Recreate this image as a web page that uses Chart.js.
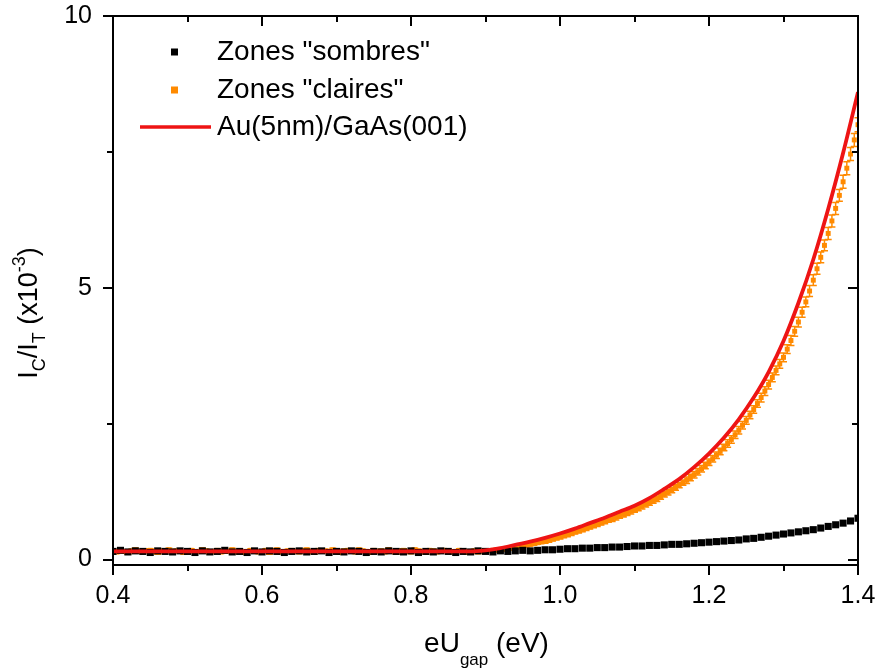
<!DOCTYPE html>
<html>
<head>
<meta charset="utf-8">
<title>IC/IT vs eUgap</title>
<script src="https://cdn.jsdelivr.net/npm/chart.js@4.4.0/dist/chart.umd.min.js"></script>
<style>
  html, body { margin: 0; padding: 0; background: #fff; }
  #chart { display: block; }
</style>
</head>
<body>
<canvas id="chart" width="877" height="670"></canvas>
<script>
// eU_gap sampling starts at 0.40 eV
const energyStart = 0.4;

// Zones "sombres" (black), one point every 0.01 eV
const sombresStep = 0.01;
const sombres = [
  0.15, 0.17, 0.14, 0.16, 0.15, 0.13, 0.16, 0.15, 0.14, 0.16,
  0.15, 0.13, 0.16, 0.14, 0.15, 0.17, 0.14, 0.15, 0.13, 0.16,
  0.14, 0.16, 0.15, 0.13, 0.15, 0.16, 0.14, 0.15, 0.16, 0.13,
  0.15, 0.14, 0.16, 0.15, 0.13, 0.15, 0.14, 0.16, 0.15, 0.14,
  0.16, 0.13, 0.15, 0.14, 0.16, 0.15, 0.13, 0.15, 0.14, 0.16,
  0.15, 0.14, 0.16, 0.15, 0.16, 0.17, 0.16, 0.17, 0.18, 0.18,
  0.19, 0.20, 0.20, 0.21, 0.21, 0.22, 0.22, 0.23, 0.23, 0.24,
  0.25, 0.25, 0.26, 0.26, 0.27, 0.28, 0.28, 0.29, 0.30, 0.31,
  0.32, 0.33, 0.34, 0.35, 0.36, 0.38, 0.39, 0.41, 0.43, 0.45,
  0.47, 0.49, 0.51, 0.53, 0.55, 0.58, 0.61, 0.64, 0.67, 0.71,
  0.76
];

// Zones "claires" (orange) with error bars, one point every 0.005 eV
const clairesStep = 0.005;
const claires = [
  0.16, 0.14, 0.17, 0.15, 0.13, 0.16, 0.18, 0.15, 0.14, 0.16,
  0.17, 0.15, 0.13, 0.16, 0.15, 0.18, 0.14, 0.16, 0.15, 0.13,
  0.16, 0.17, 0.14, 0.15, 0.18, 0.16, 0.13, 0.15, 0.17, 0.14,
  0.16, 0.15, 0.18, 0.14, 0.16, 0.13, 0.15, 0.17, 0.16, 0.14,
  0.15, 0.17, 0.13, 0.16, 0.18, 0.14, 0.15, 0.16, 0.17, 0.15,
  0.14, 0.16, 0.18, 0.15, 0.13, 0.17, 0.15, 0.16, 0.14, 0.18,
  0.15, 0.13, 0.16, 0.17, 0.15, 0.14, 0.18, 0.16, 0.15, 0.13,
  0.17, 0.15, 0.16, 0.14, 0.18, 0.15, 0.13, 0.16, 0.17, 0.15,
  0.14, 0.18, 0.16, 0.15, 0.13, 0.17, 0.16, 0.14, 0.15, 0.17,
  0.16, 0.14, 0.15, 0.17, 0.16, 0.13, 0.15, 0.16, 0.14, 0.16,
  0.16, 0.165, 0.17, 0.175, 0.18, 0.19, 0.20, 0.21, 0.22, 0.235,
  0.25, 0.265, 0.28, 0.295, 0.31, 0.325, 0.34, 0.36, 0.38, 0.40,
  0.42, 0.44, 0.46, 0.485, 0.51, 0.53, 0.55, 0.575, 0.60, 0.625,
  0.65, 0.675, 0.70, 0.725, 0.75, 0.78, 0.81, 0.835, 0.86, 0.89,
  0.92, 0.95, 0.98, 1.015, 1.05, 1.085, 1.12, 1.16, 1.20, 1.24,
  1.28, 1.325, 1.37, 1.415, 1.46, 1.51, 1.56, 1.615, 1.67, 1.73,
  1.79, 1.855, 1.92, 1.99, 2.06, 2.135, 2.21, 2.295, 2.38, 2.47,
  2.56, 2.66, 2.76, 2.87, 2.98, 3.10, 3.22, 3.35, 3.48, 3.60,
  3.72, 3.87, 4.03, 4.20, 4.37, 4.55, 4.74, 4.94, 5.14, 5.35,
  5.56, 5.78, 6.00, 6.23, 6.46, 6.70, 6.95, 7.20, 7.46, 7.72,
  8.00
];
const clairesErr = [
  0.03, 0.03, 0.03, 0.03, 0.03, 0.03, 0.03, 0.03, 0.03, 0.03,
  0.03, 0.03, 0.03, 0.03, 0.03, 0.03, 0.03, 0.03, 0.03, 0.03,
  0.03, 0.03, 0.03, 0.03, 0.03, 0.03, 0.03, 0.03, 0.03, 0.03,
  0.03, 0.03, 0.03, 0.03, 0.03, 0.03, 0.03, 0.03, 0.03, 0.03,
  0.03, 0.03, 0.03, 0.03, 0.03, 0.03, 0.03, 0.03, 0.03, 0.03,
  0.03, 0.03, 0.03, 0.03, 0.03, 0.03, 0.03, 0.03, 0.03, 0.03,
  0.03, 0.03, 0.03, 0.03, 0.03, 0.03, 0.03, 0.03, 0.03, 0.03,
  0.03, 0.03, 0.03, 0.03, 0.03, 0.03, 0.03, 0.03, 0.03, 0.03,
  0.03, 0.03, 0.03, 0.03, 0.03, 0.03, 0.03, 0.03, 0.03, 0.03,
  0.03, 0.03, 0.03, 0.03, 0.03, 0.03, 0.03, 0.03, 0.03, 0.03,
  0.03, 0.03, 0.03, 0.03, 0.03, 0.03, 0.03, 0.03, 0.03, 0.03,
  0.03, 0.03, 0.03, 0.03, 0.03, 0.03, 0.04, 0.04, 0.04, 0.04,
  0.04, 0.04, 0.04, 0.04, 0.04, 0.04, 0.04, 0.04, 0.04, 0.04,
  0.04, 0.04, 0.04, 0.04, 0.05, 0.05, 0.05, 0.05, 0.05, 0.05,
  0.05, 0.05, 0.05, 0.05, 0.05, 0.05, 0.05, 0.05, 0.05, 0.05,
  0.05, 0.05, 0.05, 0.05, 0.06, 0.06, 0.06, 0.06, 0.06, 0.06,
  0.06, 0.06, 0.06, 0.06, 0.06, 0.07, 0.07, 0.07, 0.07, 0.07,
  0.07, 0.07, 0.07, 0.07, 0.08, 0.08, 0.08, 0.08, 0.08, 0.08,
  0.08, 0.08, 0.09, 0.09, 0.09, 0.09, 0.09, 0.10, 0.10, 0.10,
  0.10, 0.10, 0.11, 0.11, 0.11, 0.11, 0.12, 0.12, 0.12, 0.12,
  0.13
];

// Au(5nm)/GaAs(001) calculated curve (red), one value every 0.02 eV
const fitStep = 0.02;
const fitAu = [
  0.15, 0.15, 0.15, 0.15, 0.15, 0.15, 0.15, 0.15, 0.15, 0.15,
  0.15, 0.15, 0.15, 0.15, 0.15, 0.15, 0.15, 0.15, 0.15, 0.15,
  0.15, 0.15, 0.15, 0.15, 0.15,
  0.17, 0.21, 0.27, 0.33, 0.40, 0.48, 0.57, 0.67, 0.77, 0.88,
  0.99, 1.13, 1.30, 1.48, 1.70, 1.95, 2.24, 2.58, 2.98, 3.45,
  4.02, 4.72, 5.52, 6.45, 7.48, 8.60
];

// axes
const xTicks = [0.4, 0.6, 0.8, 1.0, 1.2, 1.4];
const xMinor = [0.5, 0.7, 0.9, 1.1, 1.3];
const yTicks = [0, 5, 10];
const yMinor = [2.5, 7.5];

const legendLabels = ['Zones "sombres"', 'Zones "claires"', 'Au(5nm)/GaAs(001)'];

const FONT = '"Liberation Sans", Arial, Helvetica, sans-serif';
const BLACK = '#000000';
const ORANGE = '#ff8a00';
const RED = '#ee1414';

const toPoints = (vals, step) =>
  vals.map((v, i) => ({ x: +(energyStart + i * step).toFixed(3), y: v }));

// vertical error bars, drawn with the y scale
const errorBars = {
  id: 'errorBars',
  beforeDatasetDraw(chart, args) {
    const ds = chart.data.datasets[args.index];
    if (!ds.errors) return;
    const { ctx } = chart;
    const y = chart.scales.y;
    const a = chart.chartArea;
    ctx.save();
    ctx.beginPath();
    ctx.rect(a.left, a.top, a.right - a.left, a.bottom - a.top);
    ctx.clip();
    ctx.strokeStyle = ds.borderColor;
    ctx.lineWidth = 1.5;
    ctx.beginPath();
    args.meta.data.forEach((pt, i) => {
      const v = ds.data[i].y;
      const e = ds.errors[i];
      const top = y.getPixelForValue(v + e);
      const bot = y.getPixelForValue(v - e);
      ctx.moveTo(pt.x, top); ctx.lineTo(pt.x, bot);
      ctx.moveTo(pt.x - 3.5, top); ctx.lineTo(pt.x + 3.5, top);
      ctx.moveTo(pt.x - 3.5, bot); ctx.lineTo(pt.x + 3.5, bot);
    });
    ctx.stroke();
    ctx.restore();
  }
};

// box frame with major / minor ticks (out on bottom-left, in on top-right)
const frame = {
  id: 'frame',
  afterDraw(chart) {
    const { ctx, chartArea: a } = chart;
    const { x, y } = chart.scales;
    ctx.save();
    ctx.strokeStyle = '#000';
    ctx.lineWidth = 2;
    ctx.strokeRect(a.left, a.top, a.right - a.left, a.bottom - a.top);
    ctx.beginPath();
    const xt = (v, len) => {
      const p = Math.round(x.getPixelForValue(v));
      ctx.moveTo(p, a.bottom); ctx.lineTo(p, a.bottom + len);
      ctx.moveTo(p, a.top); ctx.lineTo(p, a.top + len);
    };
    const yt = (v, len) => {
      const p = Math.round(y.getPixelForValue(v));
      ctx.moveTo(a.left - len, p); ctx.lineTo(a.left, p);
      ctx.moveTo(a.right, p); ctx.lineTo(a.right - len, p);
    };
    xTicks.forEach(v => xt(v, 10));
    xMinor.forEach(v => xt(v, 6));
    yTicks.forEach(v => yt(v, 10));
    yMinor.forEach(v => yt(v, 6));
    ctx.stroke();
    ctx.restore();
  }
};

// text pieces with sub/superscripts
function richText(ctx, parts, cx, baseline) {
  const set = p => { ctx.font = p.size + 'px ' + FONT; };
  let total = 0;
  parts.forEach(p => { set(p); p.w = ctx.measureText(p.t).width; total += p.w; });
  let cur = cx - total / 2;
  ctx.textAlign = 'left';
  ctx.textBaseline = 'alphabetic';
  parts.forEach(p => {
    set(p);
    ctx.fillText(p.t, cur, baseline + (p.dy || 0));
    cur += p.w;
  });
}

const titles = {
  id: 'titles',
  afterDraw(chart) {
    const { ctx, chartArea: a } = chart;
    ctx.save();
    ctx.fillStyle = '#000';
    richText(ctx, [
      { t: 'eU', size: 28 },
      { t: 'gap', size: 17, dy: 13 },
      { t: ' (eV)', size: 28 }
    ], (a.left + a.right) / 2 + 1, 652);

    ctx.translate(37, 313);
    ctx.rotate(-Math.PI / 2);
    richText(ctx, [
      { t: 'I', size: 27 },
      { t: 'C', size: 18, dy: 8 },
      { t: '/I', size: 27 },
      { t: 'T', size: 18, dy: 8 },
      { t: ' (x10', size: 27 },
      { t: '-3', size: 18, dy: -12 },
      { t: ')', size: 27 }
    ], 0, 0);
    ctx.restore();
  }
};

// legend in the upper left corner of the plot
const legendBox = {
  id: 'legendBox',
  afterDraw(chart) {
    const { ctx } = chart;
    const rows = [52, 90, 127];
    ctx.save();
    ctx.fillStyle = BLACK;
    ctx.fillRect(171, rows[0] - 3.5, 7, 7);
    ctx.fillStyle = ORANGE;
    ctx.fillRect(171, rows[1] - 3.5, 7, 7);
    ctx.strokeStyle = RED;
    ctx.lineWidth = 3.5;
    ctx.beginPath();
    ctx.moveTo(140, rows[2]); ctx.lineTo(211, rows[2]);
    ctx.stroke();
    ctx.fillStyle = '#000';
    ctx.font = '28px ' + FONT;
    ctx.textAlign = 'left';
    ctx.textBaseline = 'middle';
    legendLabels.forEach((t, i) => ctx.fillText(t, 217, rows[i]));
    ctx.restore();
  }
};

Chart.defaults.font.family = FONT;
Chart.defaults.color = '#000';

new Chart(document.getElementById('chart'), {
  type: 'scatter',
  data: {
    datasets: [
      {
        label: legendLabels[2],
        data: toPoints(fitAu, fitStep),
        showLine: true,
        borderColor: RED,
        borderWidth: 3.8,
        pointRadius: 0,
        cubicInterpolationMode: 'monotone',
        order: 1
      },
      {
        label: legendLabels[0],
        data: toPoints(sombres, sombresStep),
        pointStyle: 'rect',
        pointRadius: 5,
        backgroundColor: BLACK,
        borderColor: BLACK,
        borderWidth: 0,
        order: 2
      },
      {
        label: legendLabels[1],
        data: toPoints(claires, clairesStep),
        errors: clairesErr,
        pointStyle: 'rect',
        pointRadius: 3.5,
        backgroundColor: ORANGE,
        borderColor: ORANGE,
        borderWidth: 0,
        order: 3
      }
    ]
  },
  options: {
    responsive: false,
    animation: false,
    devicePixelRatio: 1,
    layout: { padding: { top: 16, right: 19, left: 0, bottom: 0 } },
    plugins: { legend: { display: false }, tooltip: { enabled: false } },
    scales: {
      x: {
        type: 'linear',
        min: 0.4,
        max: 1.4,
        afterBuildTicks: s => { s.ticks = xTicks.map(v => ({ value: v })); },
        afterFit: s => { s.height = 105; s.paddingLeft = 0; s.paddingRight = 0; },
        grid: { display: false, drawTicks: false },
        border: { display: false },
        ticks: {
          font: { size: 25 },
          color: '#000',
          padding: 16,
          maxRotation: 0,
          autoSkip: false,
          callback: v => v.toFixed(1)
        }
      },
      y: {
        type: 'linear',
        min: -0.1,
        max: 10,
        afterBuildTicks: s => { s.ticks = yTicks.map(v => ({ value: v })); },
        afterFit: s => { s.width = 113; s.paddingTop = 0; s.paddingBottom = 0; },
        grid: { display: false, drawTicks: false },
        border: { display: false },
        ticks: {
          font: { size: 25 },
          color: '#000',
          padding: 21,
          autoSkip: false,
          callback: v => String(v)
        }
      }
    }
  },
  plugins: [errorBars, frame, titles, legendBox]
});
</script>
</body>
</html>
